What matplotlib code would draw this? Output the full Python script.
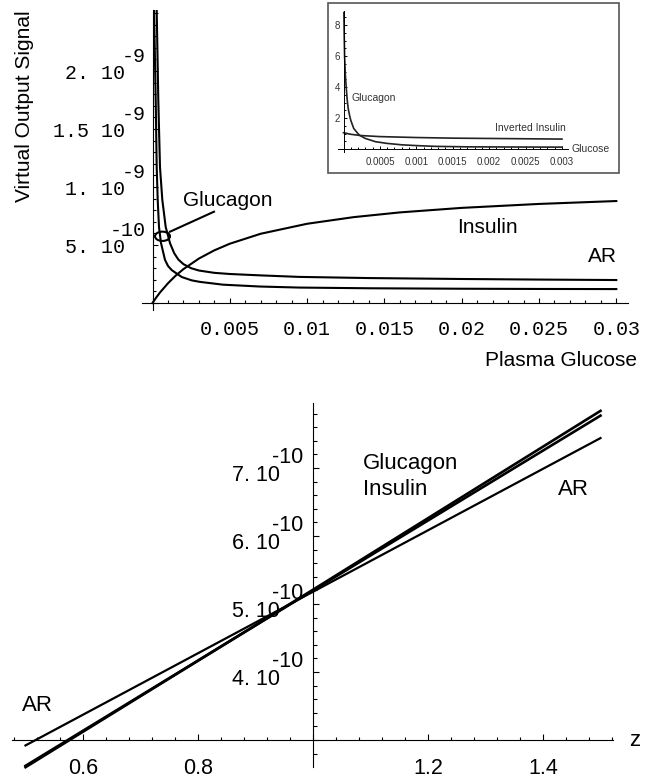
import matplotlib
matplotlib.use("Agg")
import matplotlib.pyplot as plt
from matplotlib.patches import Ellipse, Rectangle
from matplotlib.ticker import MultipleLocator

W, H = 658, 778
SANS = "Liberation Sans"
MONO = "Liberation Mono"
PT = 72 / 100  # points per pixel at dpi 100

# --- top panel: plasma glucose vs virtual output signal (signal in units of 1e-10)
glucose_ar = [0.00027, 0.000375, 0.000485, 0.000634, 0.000854, 0.00113, 0.0014, 0.00167,
              0.002, 0.0025, 0.003, 0.004, 0.005, 0.007, 0.0095, 0.014, 0.02, 0.025, 0.03]
signal_ar = [25.3, 17.5, 11.7, 8.9, 6.55, 5.17, 4.3, 3.75,
             3.35, 3.0, 2.8, 2.6, 2.5, 2.38, 2.25, 2.15, 2.07, 2.02, 1.98]

glucose_glucagon = [0.0001, 0.000207, 0.000272, 0.000336, 0.00042, 0.00055, 0.00081,
                    0.001, 0.00124, 0.00189, 0.00254, 0.00307, 0.00456, 0.00695, 0.0095,
                    0.014, 0.02, 0.025, 0.03]
signal_glucagon = [25.3, 17.5, 11.7, 8.9, 6.55, 5.17, 3.71,
                   3.2, 2.84, 2.24, 1.95, 1.82, 1.58, 1.42, 1.33,
                   1.27, 1.23, 1.21, 1.20]

glucose_insulin = [0, 0.00025, 0.0005, 0.001, 0.0015, 0.002, 0.003, 0.004, 0.005,
                   0.007, 0.01, 0.013, 0.016, 0.02, 0.025, 0.03]
signal_insulin = [0, 0.49, 0.93, 1.70, 2.36, 2.92, 3.83, 4.54, 5.11,
                  5.97, 6.83, 7.40, 7.81, 8.20, 8.54, 8.79]

top_yticks = [5, 10, 15, 20]
top_ytick_base = ["5. 10", "1. 10", "1.5 10", "2. 10"]
top_ytick_exp = ["-10", "-9", "-9", "-9"]
top_xticks = [0.005, 0.01, 0.015, 0.02, 0.025, 0.03]
top_xtick_labels = ["0.005", "0.01", "0.015", "0.02", "0.025", "0.03"]

# --- inset: glucagon vs inverted insulin
inset_glucose_glucagon = [0.000005, 0.00001, 0.000015, 0.000025, 0.000037, 0.00005,
                          0.000065, 0.000082, 0.0001, 0.00014, 0.0002, 0.00023, 0.0003,
                          0.00044, 0.0006, 0.0008, 0.001, 0.00126, 0.0017, 0.0022, 0.003]
inset_glucagon = [8.8, 7.2, 6.0, 4.8, 4.0, 3.2,
                  2.6, 2.2, 1.85, 1.33, 0.98, 0.86, 0.68,
                  0.47, 0.36, 0.27, 0.22, 0.17, 0.14, 0.13, 0.12]
inset_glucose_insulin = [0, 0.0001, 0.00023, 0.0005, 0.001, 0.0015, 0.002, 0.0025, 0.003]
inset_inv_insulin = [1.05, 0.95, 0.87, 0.80, 0.74, 0.70, 0.68, 0.66, 0.64]
inset_xticks = [0.0005, 0.001, 0.0015, 0.002, 0.0025, 0.003]
inset_xtick_labels = ["0.0005", "0.001", "0.0015", "0.002", "0.0025", "0.003"]
inset_yticks = [2, 4, 6, 8]

# --- bottom panel: z (signal in units of 1e-10)
z_vals = [0.5, 1.0, 1.5]
ar_z = [2.92, 5.18, 7.44]
glucagon_z = [2.60, 5.21, 7.84]
insulin_z = [2.62, 5.20, 7.77]
bot_yticks = [4, 5, 6, 7]
bot_ytick_base = ["4. 10", "5. 10", "6. 10", "7. 10"]
bot_xticks = [0.6, 0.8, 1.2, 1.4]
bot_xtick_labels = ["0.6", "0.8", "1.2", "1.4"]


def fx(px):
    return px / W


def fy(py):
    return 1 - py / H


def math_axes(ax, x0, y0, major, minor, lw=0.8):
    for s in ["top", "right"]:
        ax.spines[s].set_visible(False)
    ax.spines["left"].set_position(("data", x0))
    ax.spines["bottom"].set_position(("data", y0))
    for s in ["left", "bottom"]:
        ax.spines[s].set_linewidth(lw)
    ax.tick_params(which="both", direction="in", width=lw,
                   labelbottom=False, labelleft=False)
    ax.tick_params(which="major", length=major)
    ax.tick_params(which="minor", length=minor)
    ax.patch.set_alpha(0)


fig = plt.figure(figsize=(W / 100, H / 100), dpi=100)

# ================= top panel =================
X0, SX, Y0, SY = 152.5, 15460.0, 303.0, 11.6
ax = fig.add_axes([fx(142), fy(310), (628 - 142) / W, (310 - 10) / H])
ax.set_xlim((142 - X0) / SX, (628 - X0) / SX)
ax.set_ylim((Y0 - 310) / SY, (Y0 - 10) / SY)
math_axes(ax, 0, 0, 5 * PT, 3 * PT)
ax.xaxis.set_major_locator(MultipleLocator(0.005))
ax.xaxis.set_minor_locator(MultipleLocator(0.001))
ax.yaxis.set_major_locator(MultipleLocator(5))
ax.yaxis.set_minor_locator(MultipleLocator(1))

ax.plot(glucose_ar, signal_ar, color="black", lw=1.5)
ax.plot(glucose_glucagon, signal_glucagon, color="black", lw=1.5)
ax.plot(glucose_insulin, signal_insulin, color="black", lw=1.5)

for v, base, ex in zip(top_yticks, top_ytick_base, top_ytick_exp):
    ax.annotate(base, xy=(0, v), xytext=(-27.5 * PT, -8 * PT), textcoords="offset points",
                ha="right", va="baseline", family=MONO, fontsize=14.4)
    ax.annotate(ex, xy=(0, v), xytext=(-6.5 * PT, 9 * PT), textcoords="offset points",
                ha="right", va="baseline", family=MONO, fontsize=14.4)
for v, lab in zip(top_xticks, top_xtick_labels):
    ax.annotate(lab, xy=(v, 0), xytext=(0, -32 * PT), textcoords="offset points",
                ha="center", va="baseline", family=MONO, fontsize=14.4)

ax.add_patch(Ellipse((10 / SX, 66.7 / SY), 15 / SX, 9.3 / SY, fill=False,
                     color="black", lw=1.5))
ax.plot([17.5 / SX, 61.5 / SX], [71.3 / SY, 91.3 / SY], color="black", lw=1.5)
ax.text(30.5 / SX, 103 / SY, "Glucagon", family=SANS, fontsize=15, va="center")
ax.text(0.0197, 6.47, "Insulin", family=SANS, fontsize=15, va="center")
ax.text(0.02817, 4.05, "AR", family=SANS, fontsize=15, va="center")

fig.text(fx(485), fy(360), "Plasma Glucose", family=SANS, fontsize=15, va="center")
fig.text(fx(25), fy(106), "Virtual Output Signal", family=SANS, fontsize=15,
         rotation=90, ha="center", va="center")

# ================= inset =================
fig.patches.append(Rectangle((fx(328), fy(173)), (619 - 328) / W, (173 - 3) / H,
                             transform=fig.transFigure, fill=True, facecolor="white",
                             edgecolor="#555555", lw=1.2, zorder=1))
IX0, ISX, IY0, ISY = 343.5, 72830.0, 149.0, 15.5
axi = fig.add_axes([fx(338.3), fy(151.7), (567.7 - 338.3) / W, (151.7 - 11) / H])
axi.set_zorder(3)
axi.set_xlim((338.3 - IX0) / ISX, (567.7 - IX0) / ISX)
axi.set_ylim((IY0 - 151.7) / ISY, (IY0 - 11) / ISY)
math_axes(axi, 0, 0, 3 * PT, 1.6 * PT, lw=0.7)
axi.xaxis.set_major_locator(MultipleLocator(0.0005))
axi.xaxis.set_minor_locator(MultipleLocator(0.0001))
axi.yaxis.set_major_locator(MultipleLocator(2))
axi.yaxis.set_minor_locator(MultipleLocator(0.5))
axi.plot(inset_glucose_glucagon, inset_glucagon, color="#222222", lw=1.2)
axi.plot(inset_glucose_insulin, inset_inv_insulin, color="#222222", lw=1.2)
for v, lab in zip(inset_xticks, inset_xtick_labels):
    axi.annotate(lab, xy=(v, 0), xytext=(0, -16 * PT), textcoords="offset points",
                 ha="center", va="baseline", family=SANS, fontsize=7, color="#333333")
for v in inset_yticks:
    axi.annotate(str(v), xy=(0, v), xytext=(-3.5 * PT, 0), textcoords="offset points",
                 ha="right", va="center_baseline", family=SANS, fontsize=7, color="#333333")
axi.text(8.5 / ISX, 51 / ISY, "Glucagon", family=SANS, fontsize=7.5, va="center",
         color="#333333")
axi.text(151.5 / ISX, 21 / ISY, "Inverted Insulin", family=SANS, fontsize=7.5,
         va="center", color="#333333")
fig.text(fx(572), fy(149), "Glucose", family=SANS, fontsize=7.5, va="center",
         color="#333333")

# ================= bottom panel =================
BX0, BSX, BY0, BSY = 313.0, 575.0, 740.0, 68.0
axb = fig.add_axes([fx(12), fy(767), (613 - 12) / W, (767 - 403) / H])
axb.set_xlim(1.0 + (12 - BX0) / BSX, 1.0 + (613 - BX0) / BSX)
axb.set_ylim(3.0 - (767 - BY0) / BSY, 3.0 + (BY0 - 403) / BSY)
math_axes(axb, 1.0, 3.0, 6 * PT, 3.5 * PT)
axb.xaxis.set_major_locator(MultipleLocator(0.2))
axb.xaxis.set_minor_locator(MultipleLocator(0.04))
axb.yaxis.set_major_locator(MultipleLocator(1))
axb.yaxis.set_minor_locator(MultipleLocator(0.2))

axb.plot(z_vals, ar_z, color="black", lw=1.6, clip_on=False)
axb.plot(z_vals, glucagon_z, color="black", lw=1.9, clip_on=False)
axb.plot(z_vals, insulin_z, color="black", lw=1.9, clip_on=False)

for v, base in zip(bot_yticks, bot_ytick_base):
    axb.annotate(base, xy=(1.0, v), xytext=(-33 * PT, -13.4 * PT), textcoords="offset points",
                 ha="right", va="baseline", family=SANS, fontsize=15.5)
    axb.annotate("-10", xy=(1.0, v), xytext=(-10 * PT, 5 * PT), textcoords="offset points",
                 ha="right", va="baseline", family=SANS, fontsize=15.5)
for v, lab in zip(bot_xticks, bot_xtick_labels):
    axb.annotate(lab, xy=(v, 3.0), xytext=(0, -34 * PT), textcoords="offset points",
                 ha="center", va="baseline", family=SANS, fontsize=15.5)

axb.text(1.087, 7.07, "Glucagon", family=SANS, fontsize=16, va="center")
axb.text(1.087, 6.68, "Insulin", family=SANS, fontsize=16, va="center")
axb.text(1.426, 6.68, "AR", family=SANS, fontsize=16, va="center")
axb.text(0.494, 3.51, "AR", family=SANS, fontsize=16, va="center")
fig.text(fx(629), fy(740), "z", family=SANS, fontsize=16, va="center")

fig.savefig("out.png", dpi=100)
